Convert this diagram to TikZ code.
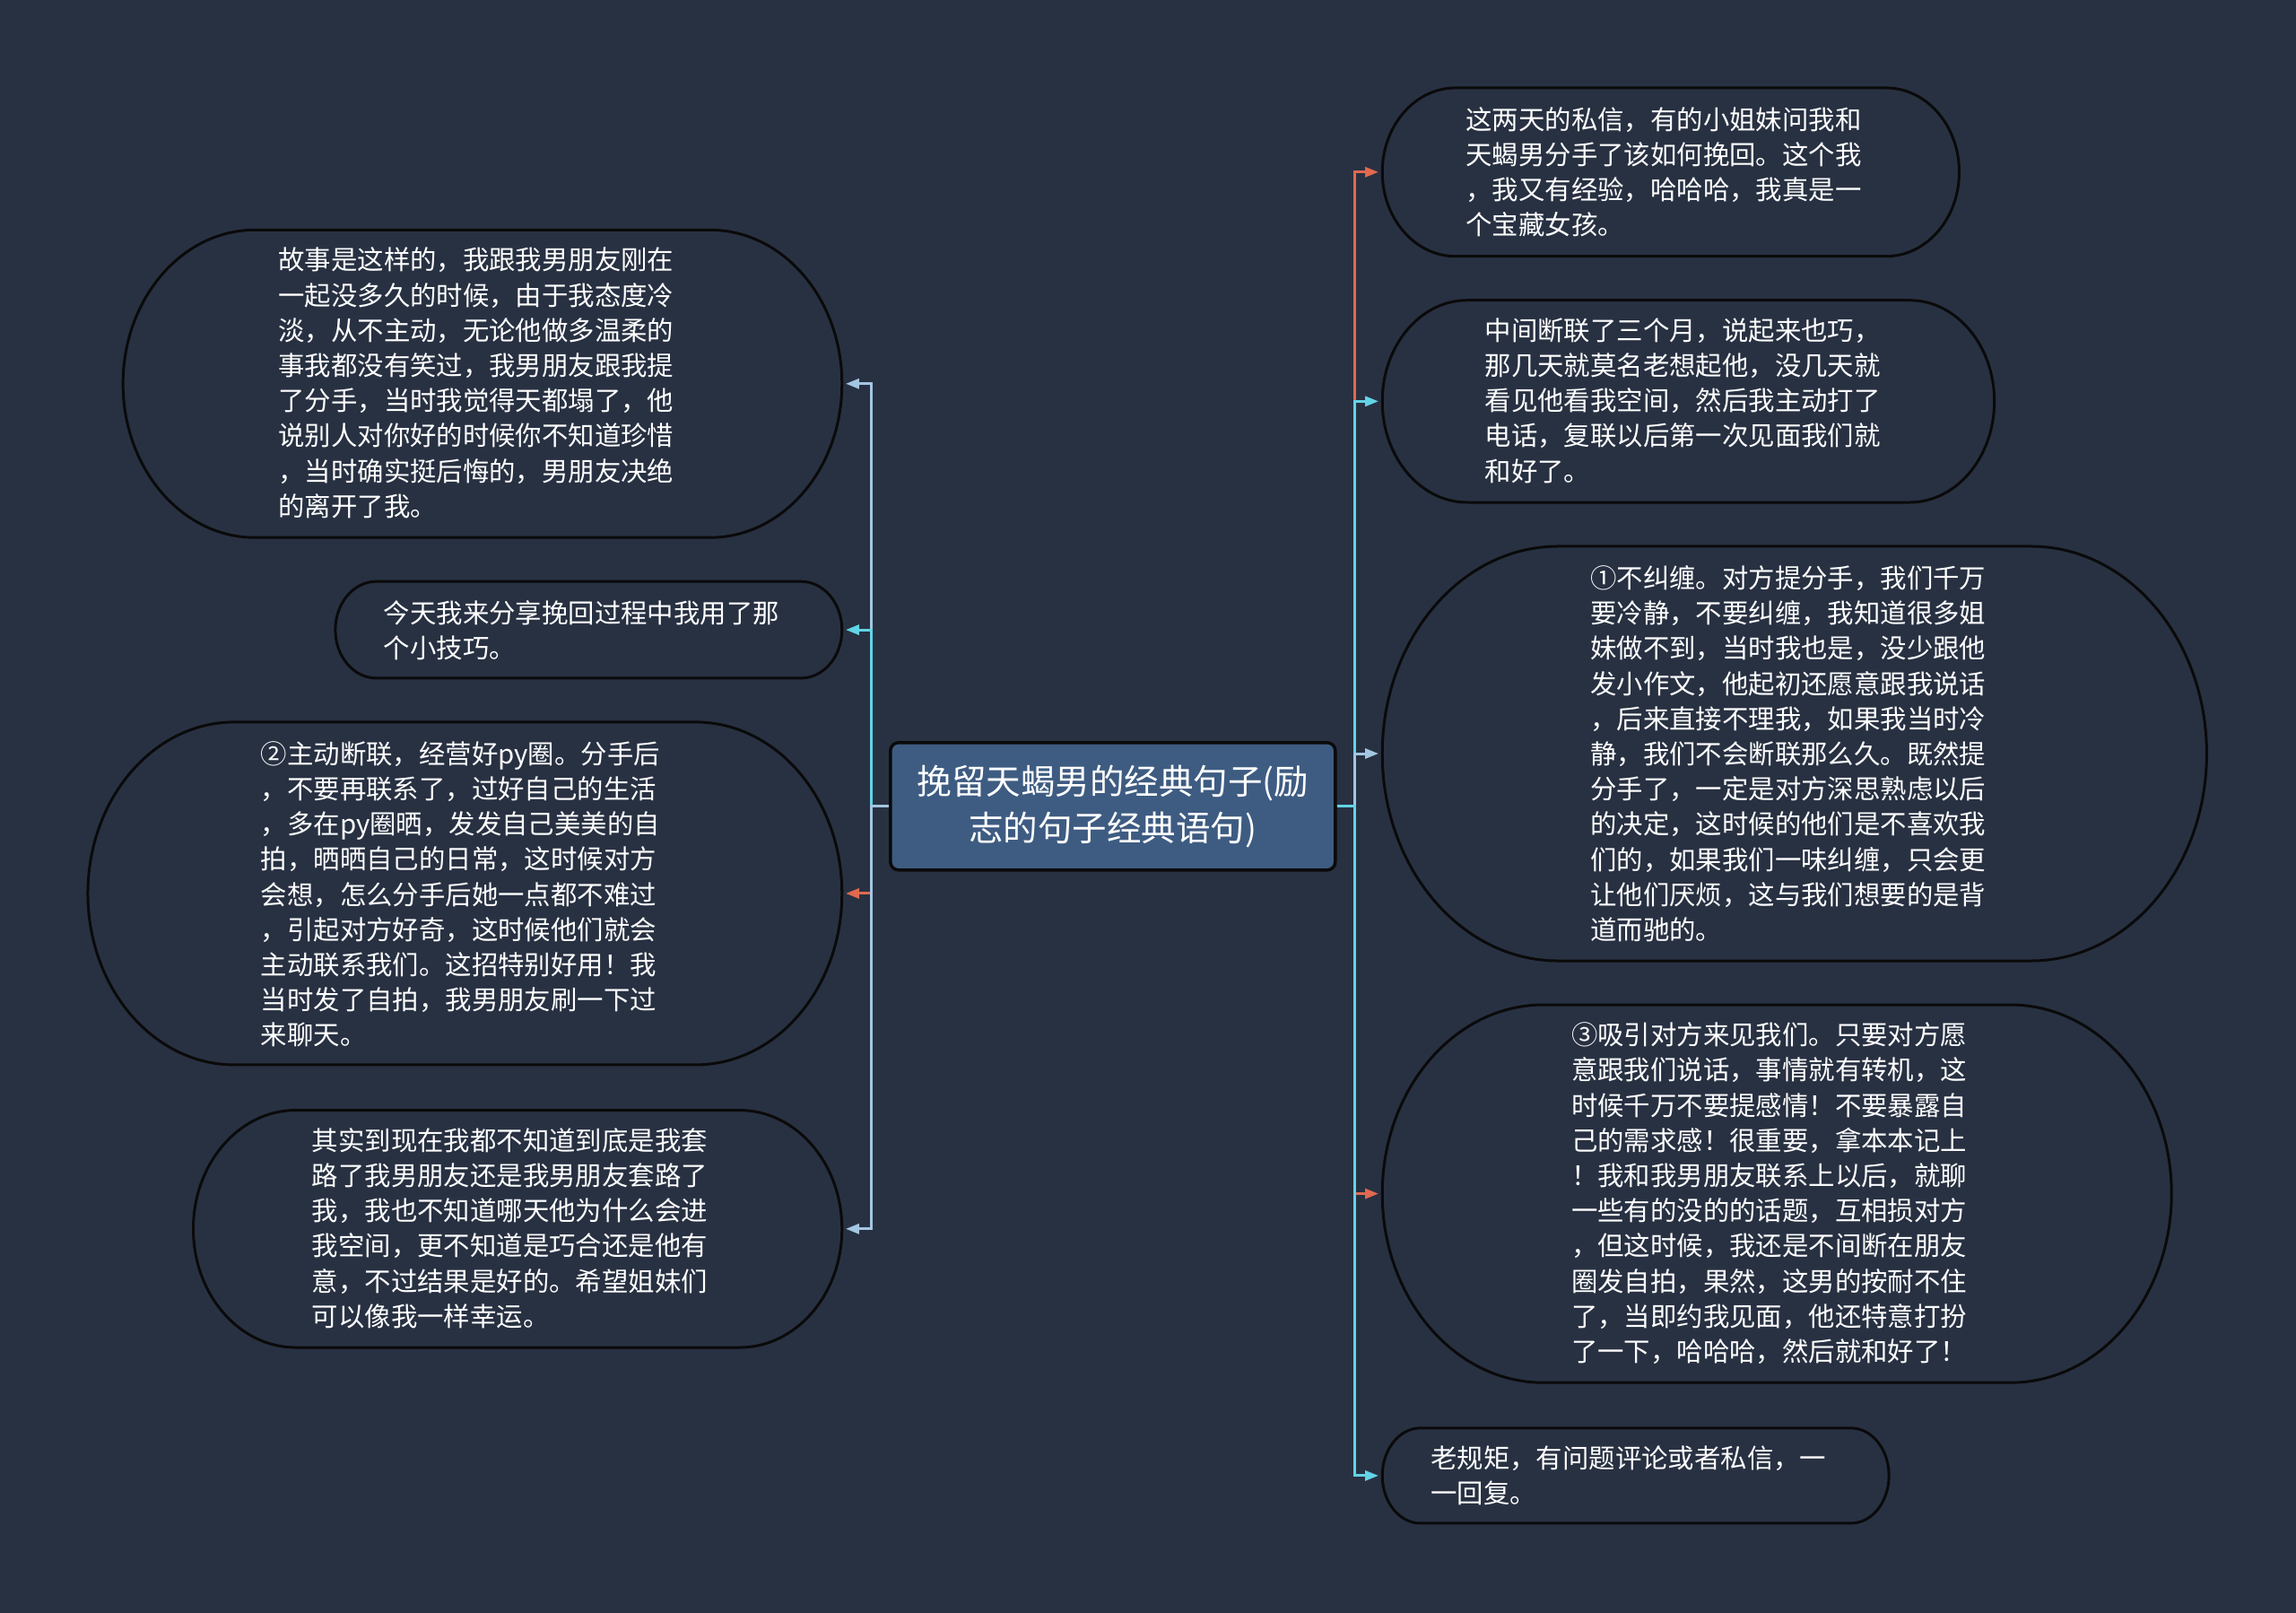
\documentclass[tikz,border=0pt]{standalone}
\usepackage{fontspec}
\setmainfont{Noto Sans CJK SC}
\usetikzlibrary{arrows.meta,fit}
\definecolor{bg}{HTML}{283142}
\definecolor{cfill}{HTML}{3E5C82}
\definecolor{lblue}{HTML}{A3C6E2}
\definecolor{cyanc}{HTML}{62D4E6}
\definecolor{redc}{HTML}{E0694F}
\definecolor{edge}{HTML}{0A0A0A}
\tikzset{
  leafline/.style={draw=edge,line width=3pt,fill=bg},
  leaftext/.style={anchor=north west,inner sep=0pt,align=left,text=white,
    font=\fontsize{29.4pt}{39.2pt}\selectfont},
  centerbox/.style={draw=edge,line width=3.5pt,fill=cfill,rounded corners=9pt,
    minimum width=496pt,minimum height=142pt,inner sep=0pt,align=center,text=white,
    font=\fontsize{38.5pt}{52pt}\selectfont},
  conn/.style={line width=3pt,-{Triangle[length=15pt,width=11pt]},shorten >=4pt},
}
\newcommand\leafbox[6]{%
  \node[fit={(#2,#3)(#4,#5)},inner sep=0pt] (#1) {};
  \draw[leafline] ({#2+#6},#3) -- ({#4-#6},#3)
    arc[start angle=90,end angle=-90,x radius={#6*1.6327pt},y radius={(#5-#3)*0.81635pt}]
    -- ({#2+#6},#5)
    arc[start angle=270,end angle=90,x radius={#6*1.6327pt},y radius={(#5-#3)*0.81635pt}]
    -- cycle;
}
\begin{document}
\begin{tikzpicture}[x=1.6327pt,y=-1.6327pt]
\fill[bg] (0,0) rectangle (1568,1101);
\useasboundingbox (0,0) rectangle (1568,1101);

% leaf shapes
\leafbox{L1}{84}{157}{575}{367}{90}
\leafbox{L2}{229}{397}{575}{463}{28}
\leafbox{L3}{60}{493}{575}{727}{100}
\leafbox{L4}{132}{758}{575}{920}{70}
\leafbox{R1}{944}{60}{1338}{175}{50}
\leafbox{R2}{944}{205}{1362}{343}{58}
\leafbox{R3}{944}{373}{1507}{656}{120}
\leafbox{R4}{944}{686}{1483}{944}{110}
\leafbox{R5}{944}{975}{1290}{1040}{26}

% center
\node[centerbox] (C) at (760,550.5) {挽留天蝎男的经典句子(励\\志的句子经典语句)};

% texts
\node[leaftext] (L1t) at (190,169) {故事是这样的，我跟我男朋友刚在\\一起没多久的时候，由于我态度冷\\淡，从不主动，无论他做多温柔的\\事我都没有笑过，我男朋友跟我提\\了分手，当时我觉得天都塌了，他\\说别人对你好的时候你不知道珍惜\\，当时确实挺后悔的，男朋友决绝\\的离开了我。};
\node[leaftext] (L2t) at (262,410) {今天我来分享挽回过程中我用了那\\个小技巧。};
\node[leaftext] (L3t) at (178,506) {②主动断联，经营好py圈。分手后\\，不要再联系了，过好自己的生活\\，多在py圈晒，发发自己美美的自\\拍，晒晒自己的日常，这时候对方\\会想，怎么分手后她一点都不难过\\，引起对方好奇，这时候他们就会\\主动联系我们。这招特别好用！我\\当时发了自拍，我男朋友刷一下过\\来聊天。};
\node[leaftext] (L4t) at (213,770) {其实到现在我都不知道到底是我套\\路了我男朋友还是我男朋友套路了\\我，我也不知道哪天他为什么会进\\我空间，更不知道是巧合还是他有\\意，不过结果是好的。希望姐妹们\\可以像我一样幸运。};
\node[leaftext] (R1t) at (1001,73) {这两天的私信，有的小姐妹问我和\\天蝎男分手了该如何挽回。这个我\\，我又有经验，哈哈哈，我真是一\\个宝藏女孩。};
\node[leaftext] (R2t) at (1014,217) {中间断联了三个月，说起来也巧，\\那几天就莫名老想起他，没几天就\\看见他看我空间，然后我主动打了\\电话，复联以后第一次见面我们就\\和好了。};
\node[leaftext] (R3t) at (1086,386) {①不纠缠。对方提分手，我们千万\\要冷静，不要纠缠，我知道很多姐\\妹做不到，当时我也是，没少跟他\\发小作文，他起初还愿意跟我说话\\，后来直接不理我，如果我当时冷\\静，我们不会断联那么久。既然提\\分手了，一定是对方深思熟虑以后\\的决定，这时候的他们是不喜欢我\\们的，如果我们一味纠缠，只会更\\让他们厌烦，这与我们想要的是背\\道而驰的。};
\node[leaftext] (R4t) at (1073,698) {③吸引对方来见我们。只要对方愿\\意跟我们说话，事情就有转机，这\\时候千万不要提感情！不要暴露自\\己的需求感！很重要，拿本本记上\\！我和我男朋友联系上以后，就聊\\一些有的没的的话题，互相损对方\\，但这时候，我还是不间断在朋友\\圈发自拍，果然，这男的按耐不住\\了，当即约我见面，他还特意打扮\\了一下，哈哈哈，然后就和好了！};
\node[leaftext] (R5t) at (977,987) {老规矩，有问题评论或者私信，一\\一回复。};

% connectors left
\draw[conn,lblue] (C.west) -- ++(-12,0) |- (L1.east);
\draw[conn,cyanc] (C.west) -- ++(-12,0) |- (L2.east);
\draw[conn,redc] (C.west) -- ++(-12,0) |- (L3.east);
\draw[conn,lblue] (C.west) -- ++(-12,0) |- (L4.east);
% connectors right
\draw[conn,redc] (C.east) -- ++(12,0) |- (R1.west);
\draw[conn,cyanc] (C.east) -- ++(12,0) |- (R2.west);
\draw[conn,lblue] (C.east) -- ++(12,0) |- (R3.west);
\draw[conn,redc] (C.east) -- ++(12,0) |- (R4.west);
\draw[conn,cyanc] (C.east) -- ++(12,0) |- (R5.west);
\end{tikzpicture}
\end{document}
